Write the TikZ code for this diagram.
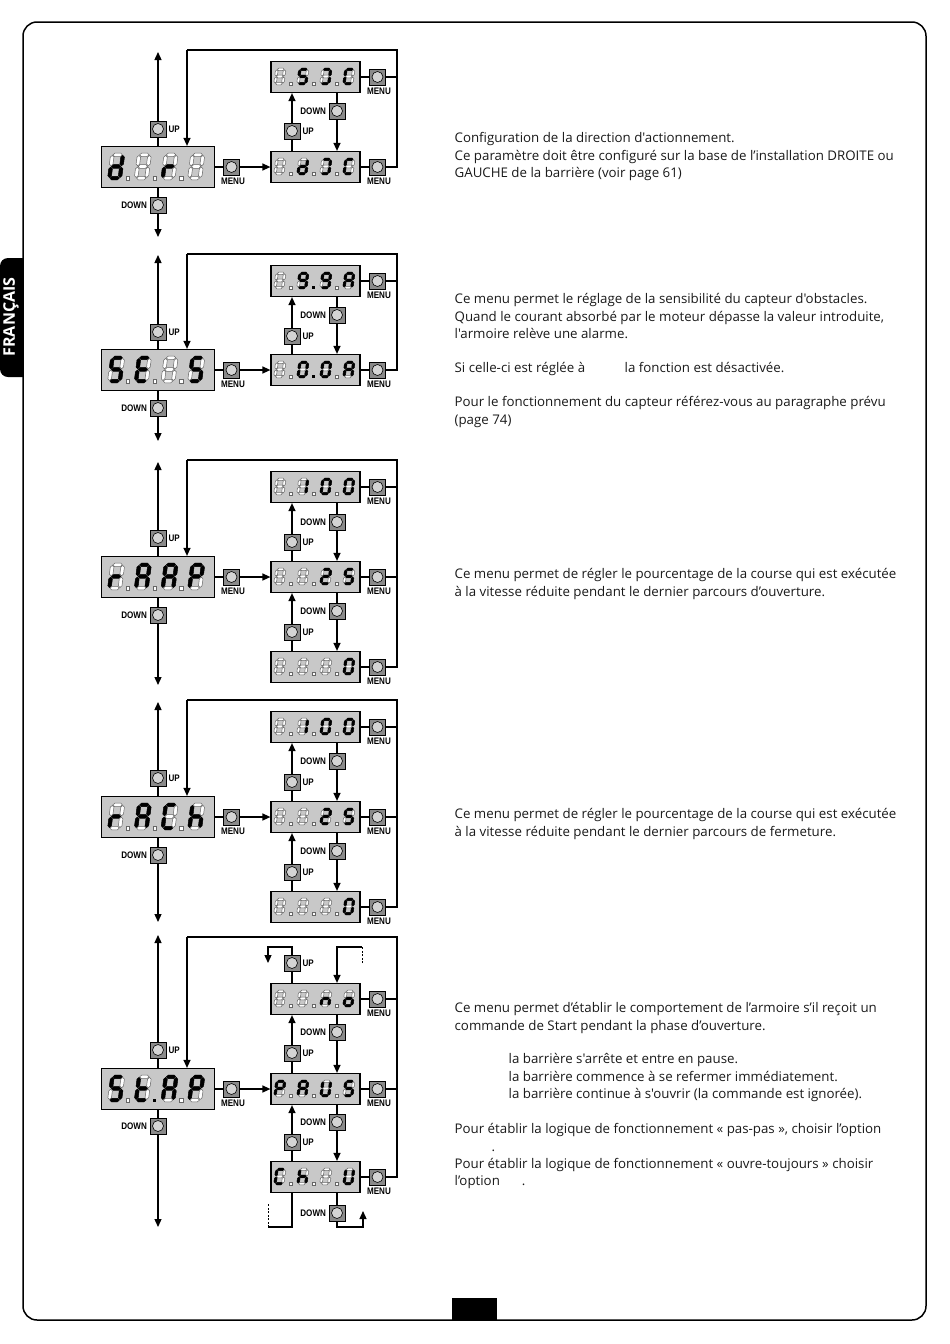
\documentclass[tikz,border=0pt]{standalone}
\usepackage{fontspec}
\setmainfont{Open Sans}[Ligatures=TeXOff]
\newfontfamily\lblfont{Liberation Sans}[FakeStretch=0.85]
\usetikzlibrary{positioning, arrows.meta}

\definecolor{dispgray}{HTML}{C8C8C8}
\definecolor{btngray}{HTML}{8A8A8A}
\definecolor{knobgray}{HTML}{D4D4D4}

\makeatletter
% one slanted seven-segment digit: node, x off, y off, W, H, thickness, lit segments
\newcommand{\segdigit}[7]{%
  \begin{scope}[shift={(#1.north west)}, shift={(#2,#3)}, xslant=0.13]
    \pgfmathsetmacro\sh{#6/2}
    \foreach \n/\yy in {a/0, g/1, d/2}{%
      \filldraw[fill=white, draw=black!60, line width=0.5pt] (0.6,\yy*#5/2) -- (0.6+\sh,\yy*#5/2-\sh) -- (#4-0.6-\sh,\yy*#5/2-\sh) -- (#4-0.6,\yy*#5/2) -- (#4-0.6-\sh,\yy*#5/2+\sh) -- (0.6+\sh,\yy*#5/2+\sh) -- cycle;
      \edef\segtest{\noexpand\in@{\n}{#7}}\segtest
      \ifin@
        \filldraw[line width=0.4pt] (0.6,\yy*#5/2) -- (0.6+\sh,\yy*#5/2-\sh) -- (#4-0.6-\sh,\yy*#5/2-\sh) -- (#4-0.6,\yy*#5/2) -- (#4-0.6-\sh,\yy*#5/2+\sh) -- (0.6+\sh,\yy*#5/2+\sh) -- cycle;
      \fi}
    \foreach \n/\xx/\yy in {f/0/0, b/1/0, e/0/1, c/1/1}{%
      \filldraw[fill=white, draw=black!60, line width=0.5pt] (\xx*#4,\yy*#5/2+0.6) -- (\xx*#4+\sh,\yy*#5/2+0.6+\sh) -- (\xx*#4+\sh,\yy*#5/2+#5/2-0.6-\sh) -- (\xx*#4,\yy*#5/2+#5/2-0.6) -- (\xx*#4-\sh,\yy*#5/2+#5/2-0.6-\sh) -- (\xx*#4-\sh,\yy*#5/2+0.6+\sh) -- cycle;
      \edef\segtest{\noexpand\in@{\n}{#7}}\segtest
      \ifin@
        \filldraw[line width=0.4pt] (\xx*#4,\yy*#5/2+0.6) -- (\xx*#4+\sh,\yy*#5/2+0.6+\sh) -- (\xx*#4+\sh,\yy*#5/2+#5/2-0.6-\sh) -- (\xx*#4,\yy*#5/2+#5/2-0.6) -- (\xx*#4-\sh,\yy*#5/2+#5/2-0.6-\sh) -- (\xx*#4-\sh,\yy*#5/2+0.6+\sh) -- cycle;
      \fi}
  \end{scope}}
% decimal points: node, x off, pitch, y off, size, lit points
\newcommand{\segdots}[6]{%
  \begin{scope}[shift={(#1.north west)}]
    \foreach \k in {1,2,3}{%
      \edef\segtest{\noexpand\in@{\k}{#6}}\segtest
      \ifin@
        \fill (#2+\k*#3-#3,#4) rectangle ++(#5,#5);
      \else
        \filldraw[fill=white, draw=black!60, line width=0.5pt] (#2+\k*#3-#3,#4) rectangle ++(#5,#5);
      \fi}
  \end{scope}}
\makeatother

\newcommand{\bigdisplay}[6]{%
  \segdigit{#1}{11.5}{8.9}{10.5}{23.3}{3.6}{#2}%
  \segdigit{#1}{38.2}{8.9}{10.5}{23.3}{3.6}{#3}%
  \segdigit{#1}{64.9}{8.9}{10.5}{23.3}{3.6}{#4}%
  \segdigit{#1}{91.6}{8.9}{10.5}{23.3}{3.6}{#5}%
  \segdots{#1}{25.4}{26.7}{30.7}{3.2}{#6}}
\newcommand{\smalldisplay}[6]{%
  \segdigit{#1}{6.5}{8.4}{7.8}{14.3}{2.6}{#2}%
  \segdigit{#1}{29.5}{8.4}{7.8}{14.3}{2.6}{#3}%
  \segdigit{#1}{52.5}{8.4}{7.8}{14.3}{2.6}{#4}%
  \segdigit{#1}{75.5}{8.4}{7.8}{14.3}{2.6}{#5}%
  \segdots{#1}{18.8}{23}{21.3}{2.6}{#6}}

\begin{document}
\begin{tikzpicture}[x=1pt, y=-1pt, line width=1.3pt,
    disp/.style={rectangle, draw, line width=1.2pt, fill=dispgray, minimum width=113pt, minimum height=41pt, inner sep=0pt},
    subdisp/.style={disp, minimum width=89pt, minimum height=31pt},
    btn/.style={rectangle, draw, line width=0.8pt, fill=btngray, minimum size=16pt, inner sep=0pt,
        path picture={\draw[fill=knobgray, line width=0.6pt] (path picture bounding box.center) circle (5.5pt);}},
    lbl/.style={font=\lblfont\bfseries\fontsize{9.5}{9.5}\selectfont, inner sep=0pt},
    upbtn/.style={btn, label={[lbl, label distance=1.5pt]right:UP}},
    dnbtn/.style={btn, label={[lbl, label distance=2pt]left:DOWN}},
    menubtn/.style={btn, label={[lbl, label distance=2pt, xshift=1.5pt]below:MENU}},
    arr/.style={-{Triangle[length=8pt, width=7pt]}},
    txt/.style={anchor=north west, align=left, inner sep=0pt, text=black!90, font=\fontsize{13.3}{17.3}\selectfont}
]
\useasboundingbox (0,0) rectangle (950,1344);

% page frame, language tab, page number box
\begin{scope}
  \clip (0,0) rectangle (23,1344);
  \fill[rounded corners=8pt] (0,258) rectangle (40,377);
\end{scope}
\node[rotate=90, text=white, font=\bfseries\fontsize{16}{16}\selectfont] (lang) at (11,317) {FRANÇAIS};
\draw[line width=1.5pt, rounded corners=14pt] (23,22) rectangle (926,1320);
\fill (452,1298) rectangle (497,1320);

% ---- dir
\node[disp] (dir) at (158,167) {};
\bigdisplay{dir}{bcdeg}{-}{eg}{-}{-}
\node[upbtn] (dirup) at (158,129) {};
\node[dnbtn] (dirdn) at (158,205) {};
\coordinate (dirtop) at (158,52);
\coordinate (dirbot) at (158,237);
\node[menubtn] (dirmenu) at (231.5,167) {};
\node[subdisp] (sx) at (315.5,77) {};
\smalldisplay{sx}{-}{acdfg}{abcd}{adef}{-}
\node[subdisp] (dx) at (315.5,167) {};
\smalldisplay{dx}{-}{bcdeg}{abcd}{adef}{-}
\node[menubtn] (sxmenu) at (377.5,77) {};
\node[menubtn] (dxmenu) at (377.5,167) {};
\node[dnbtn] (sxdn) at (337,111) {};
\node[upbtn] (dxup) at (292,131) {};
\coordinate (dirret) at (397,50);
\coordinate (dirin) at (187,50);

\draw (dir) -- (dirup);
\draw[arr] (dirup) -- (dirtop);
\draw (dir) -- (dirdn);
\draw[arr] (dirdn) -- (dirbot);
\draw (dir) -- (dirmenu);
\draw[arr] (dirmenu) -- (dx);
\draw (sx) -- (sxmenu);
\draw (sxmenu) -- (sxmenu -| dirret);
\draw (dx) -- (dxmenu);
\draw (dxmenu) -| (dirret) -- (dirin);
\draw[arr] (dirin) -- (dirin |- dir.north);
\draw (sx.south -| sxdn) -- (sxdn);
\draw[arr] (sxdn) -- (sxdn |- dx.north);
\draw (dx.north -| dxup) -- (dxup);
\draw[arr] (dxup) -- (dxup |- sx.south);

\node[txt] (dirtxt) at (454,132) {Configuration de la direction d'actionnement.\\
Ce paramètre doit être configuré sur la base de l’installation DROITE ou\\
GAUCHE de la barrière (voir page 61)};

% ---- SEnS
\node[disp] (sens) at (158,370) {};
\bigdisplay{sens}{acdfg}{adefg}{-}{acdfg}{-}
\node[upbtn] (sensup) at (158,332) {};
\node[dnbtn] (sensdn) at (158,408) {};
\coordinate (senstop) at (158,255);
\coordinate (sensbot) at (158,441);
\node[menubtn] (sensmenu) at (231.5,370) {};
\node[subdisp] (smax) at (315.5,281) {};
\smalldisplay{smax}{-}{abcdfg}{abcdfg}{abcefg}{2}
\node[subdisp] (smin) at (315.5,370) {};
\smalldisplay{smin}{-}{abcdef}{abcdef}{abcefg}{2}
\node[menubtn] (smaxmenu) at (377.5,281) {};
\node[menubtn] (sminmenu) at (377.5,370) {};
\node[dnbtn] (smaxdn) at (337,315) {};
\node[upbtn] (sminup) at (292,336) {};
\coordinate (sensret) at (397,254);
\coordinate (sensin) at (187,254);

\draw (sens) -- (sensup);
\draw[arr] (sensup) -- (senstop);
\draw (sens) -- (sensdn);
\draw[arr] (sensdn) -- (sensbot);
\draw (sens) -- (sensmenu);
\draw[arr] (sensmenu) -- (smin);
\draw (smax) -- (smaxmenu);
\draw (smaxmenu) -- (smaxmenu -| sensret);
\draw (smin) -- (sminmenu);
\draw (sminmenu) -| (sensret) -- (sensin);
\draw[arr] (sensin) -- (sensin |- sens.north);
\draw (smax.south -| smaxdn) -- (smaxdn);
\draw[arr] (smaxdn) -- (smaxdn |- smin.north);
\draw (smin.north -| sminup) -- (sminup);
\draw[arr] (sminup) -- (sminup |- smax.south);

\node[txt] (senstxt) at (454,293) {Ce menu permet le réglage de la sensibilité du capteur d'obstacles.\\
Quand le courant absorbé par le moteur dépasse la valeur introduite,\\
l'armoire relève une alarme.};
\node[txt] (senszero) at (454,362) {Si celle-ci est réglée à};
\node[txt] (sensoff) at (624,362) {la fonction est désactivée.};
\node[txt] (sensref) at (454,396) {Pour le fonctionnement du capteur référez-vous au paragraphe prévu\\
(page 74)};

% ---- rAAP
\node[disp] (rap) at (158,577) {};
\bigdisplay{rap}{eg}{abcefg}{abcefg}{abefg}{-}
\node[upbtn] (rapup) at (158,538) {};
\node[dnbtn] (rapdn) at (158,615) {};
\coordinate (raptop) at (158,462);
\coordinate (rapbot) at (158,685);
\node[menubtn] (rapmenu) at (231.5,577) {};
\node[subdisp] (ra) at (315.5,487) {};
\smalldisplay{ra}{-}{bc}{abcdef}{abcdef}{-}
\node[subdisp] (rb) at (315.5,577) {};
\smalldisplay{rb}{-}{-}{abdeg}{acdfg}{-}
\node[subdisp] (rc) at (315.5,667) {};
\smalldisplay{rc}{-}{-}{-}{abcdef}{-}
\node[menubtn] (ramenu) at (377.5,487) {};
\node[menubtn] (rbmenu) at (377.5,577) {};
\node[menubtn] (rcmenu) at (377.5,667) {};
\node[dnbtn] (radn) at (337,522) {};
\node[upbtn] (rbup) at (292,542) {};
\node[dnbtn] (rbdn) at (337,611) {};
\node[upbtn] (rcup) at (292,632) {};
\coordinate (rapret) at (397,460);
\coordinate (rapin) at (187,460);

\draw (rap) -- (rapup);
\draw[arr] (rapup) -- (raptop);
\draw (rap) -- (rapdn);
\draw[arr] (rapdn) -- (rapbot);
\draw (rap) -- (rapmenu);
\draw[arr] (rapmenu) -- (rb);
\draw (ra) -- (ramenu);
\draw (ramenu) -- (ramenu -| rapret);
\draw (rb) -- (rbmenu);
\draw (rbmenu) -- (rbmenu -| rapret);
\draw (rc) -- (rcmenu);
\draw (rcmenu) -| (rapret) -- (rapin);
\draw[arr] (rapin) -- (rapin |- rap.north);
\draw (ra.south -| radn) -- (radn);
\draw[arr] (radn) -- (radn |- rb.north);
\draw (rb.north -| rbup) -- (rbup);
\draw[arr] (rbup) -- (rbup |- ra.south);
\draw (rb.south -| rbdn) -- (rbdn);
\draw[arr] (rbdn) -- (rbdn |- rc.north);
\draw (rc.north -| rcup) -- (rcup);
\draw[arr] (rcup) -- (rcup |- rb.south);

\node[txt] (raptxt) at (454,568) {Ce menu permet de régler le pourcentage de la course qui est exécutée\\
à la vitesse réduite pendant le dernier parcours d’ouverture.};

% ---- rACh
\node[disp] (rch) at (158,817) {};
\bigdisplay{rch}{eg}{abcefg}{adef}{cefg}{-}
\node[upbtn] (rchup) at (158,778) {};
\node[dnbtn] (rchdn) at (158,855) {};
\coordinate (rchtop) at (158,702);
\coordinate (rchbot) at (158,922);
\node[menubtn] (rchmenu) at (231.5,817) {};
\node[subdisp] (ca) at (315.5,727) {};
\smalldisplay{ca}{-}{bc}{abcdef}{abcdef}{-}
\node[subdisp] (cb) at (315.5,817) {};
\smalldisplay{cb}{-}{-}{abdeg}{acdfg}{-}
\node[subdisp] (cc) at (315.5,907) {};
\smalldisplay{cc}{-}{-}{-}{abcdef}{-}
\node[menubtn] (camenu) at (377.5,727) {};
\node[menubtn] (cbmenu) at (377.5,817) {};
\node[menubtn] (ccmenu) at (377.5,907) {};
\node[dnbtn] (cadn) at (337,761) {};
\node[upbtn] (cbup) at (292,782) {};
\node[dnbtn] (cbdn) at (337,851) {};
\node[upbtn] (ccup) at (292,872) {};
\coordinate (rchret) at (397,700);
\coordinate (rchin) at (187,700);

\draw (rch) -- (rchup);
\draw[arr] (rchup) -- (rchtop);
\draw (rch) -- (rchdn);
\draw[arr] (rchdn) -- (rchbot);
\draw (rch) -- (rchmenu);
\draw[arr] (rchmenu) -- (cb);
\draw (ca) -- (camenu);
\draw (camenu) -- (camenu -| rchret);
\draw (cb) -- (cbmenu);
\draw (cbmenu) -- (cbmenu -| rchret);
\draw (cc) -- (ccmenu);
\draw (ccmenu) -| (rchret) -- (rchin);
\draw[arr] (rchin) -- (rchin |- rch.north);
\draw (ca.south -| cadn) -- (cadn);
\draw[arr] (cadn) -- (cadn |- cb.north);
\draw (cb.north -| cbup) -- (cbup);
\draw[arr] (cbup) -- (cbup |- ca.south);
\draw (cb.south -| cbdn) -- (cbdn);
\draw[arr] (cbdn) -- (cbdn |- cc.north);
\draw (cc.north -| ccup) -- (ccup);
\draw[arr] (ccup) -- (ccup |- cb.south);

\node[txt] (rchtxt) at (454,808) {Ce menu permet de régler le pourcentage de la course qui est exécutée\\
à la vitesse réduite pendant le dernier parcours de fermeture.};

% ---- StAP
\node[disp] (stap) at (158,1089) {};
\bigdisplay{stap}{acdfg}{defg}{abcefg}{abefg}{2}
\node[upbtn] (stapup) at (158,1050) {};
\node[dnbtn] (stapdn) at (158,1126) {};
\coordinate (staptop) at (158,935);
\coordinate (stapbot) at (158,1227);
\node[menubtn] (stapmenu) at (231.5,1089) {};
\node[subdisp] (no) at (315.5,999) {};
\smalldisplay{no}{-}{-}{ceg}{cdeg}{-}
\node[subdisp] (paus) at (315.5,1089) {};
\smalldisplay{paus}{abefg}{abcefg}{bcdef}{acdfg}{-}
\node[subdisp] (chiu) at (315.5,1177) {};
\smalldisplay{chiu}{adef}{cefg}{-}{bcdef}{-}
\node[menubtn] (nomenu) at (377.5,999) {};
\node[menubtn] (pausmenu) at (377.5,1089) {};
\node[menubtn] (chiumenu) at (377.5,1177) {};
\node[upbtn] (noup) at (292,963) {};
\node[dnbtn] (nodn) at (337,1032) {};
\node[upbtn] (pausup) at (292,1053) {};
\node[dnbtn] (pausdn) at (337,1122) {};
\node[upbtn] (chiuup) at (292,1142) {};
\node[dnbtn] (chiudn) at (337,1213) {};
\coordinate (stapret) at (397,937);
\coordinate (stapin) at (187,937);
\coordinate (noleft) at (268,947);
\coordinate (noleftend) at (268,963);
\coordinate (noright) at (362,947);
\coordinate (norightend) at (362,963);
\coordinate (noin) at (337,947);
\coordinate (chiuleft) at (268,1227);
\coordinate (chiuleftend) at (268,1203);
\coordinate (chiuright) at (363,1227);
\coordinate (chiurightend) at (363,1211);

\draw (stap) -- (stapup);
\draw[arr] (stapup) -- (staptop);
\draw (stap) -- (stapdn);
\draw[arr] (stapdn) -- (stapbot);
\draw (stap) -- (stapmenu);
\draw[arr] (stapmenu) -- (paus);
\draw (no) -- (nomenu);
\draw (nomenu) -- (nomenu -| stapret);
\draw (paus) -- (pausmenu);
\draw (pausmenu) -- (pausmenu -| stapret);
\draw (chiu) -- (chiumenu);
\draw (chiumenu) -| (stapret) -- (stapin);
\draw[arr] (stapin) -- (stapin |- stap.north);
\draw (no.south -| nodn) -- (nodn);
\draw[arr] (nodn) -- (nodn |- paus.north);
\draw (paus.north -| pausup) -- (pausup);
\draw[arr] (pausup) -- (pausup |- no.south);
\draw (paus.south -| pausdn) -- (pausdn);
\draw[arr] (pausdn) -- (pausdn |- chiu.north);
\draw (chiu.north -| chiuup) -- (chiuup);
\draw[arr] (chiuup) -- (chiuup |- paus.south);
% wrap-around ends
\draw (no.north -| noup) -- (noup);
\draw[arr] (noup) |- (noleft) -- (noleftend);
\draw[dashed, dash pattern=on 2pt off 1.5pt, line width=1pt] (norightend) -- (noright);
\draw[arr] (noright) -- (noin) -- (noin |- no.north);
\draw (chiu.south -| chiuup) |- (chiuleft);
\draw[dashed, dash pattern=on 2pt off 1.5pt, line width=1pt] (chiuleft) -- (chiuleftend);
\draw (chiu.south -| chiudn) -- (chiudn);
\draw[arr] (chiudn) |- (chiuright) -- (chiurightend);

\node[txt] (staptxt) at (454,1002) {Ce menu permet d’établir le comportement de l’armoire s’il reçoit un\\
commande de Start pendant la phase d’ouverture.};
\node[txt] (stapcases) at (508,1053) {la barrière s'arrête et entre en pause.\\
la barrière commence à se refermer immédiatement.\\
la barrière continue à s'ouvrir (la commande est ignorée).};
\node[txt] (staplogic) at (454,1123) {Pour établir la logique de fonctionnement « pas-pas », choisir l’option\\
\hspace*{37pt}.\\
Pour établir la logique de fonctionnement « ouvre-toujours » choisir\\
l’option\hspace{22pt}.};
\end{tikzpicture}
\end{document}
